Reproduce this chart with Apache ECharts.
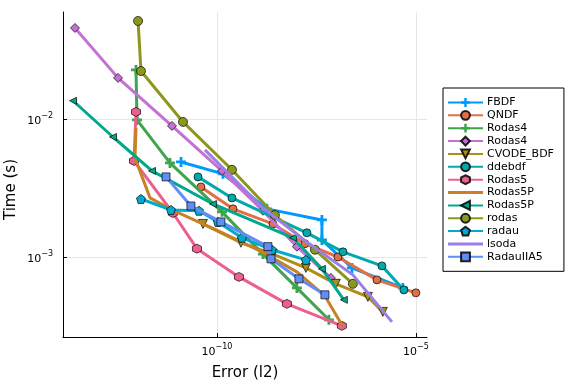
<!DOCTYPE html>
<html><head><meta charset="utf-8">
<script src="https://cdn.jsdelivr.net/npm/echarts@6/dist/echarts.min.js"></script>
<style>html,body{margin:0;padding:0;background:#fff}#c{width:576px;height:384px}</style>
</head><body><div id="c"></div>
<script>
// ---- data ----
const seriesNames = ['FBDF','QNDF','Rodas4','Rodas4','CVODE_BDF','ddebdf','Rodas5','Rodas5P','Rodas5P','rodas','radau','lsoda','RadauIIA5'];
const xTickValues = [1e-10, 1e-5];
const yTickValues = [1e-3, 1e-2];

const fbdfErr = [1.25e-11, 1.42e-10, 1.80e-9, 4.35e-8, 4.35e-8, 2.47e-7, 4.71e-6];
const fbdfTime = [4.91e-3, 4.03e-3, 2.25e-3, 1.87e-3, 1.34e-3, 8.42e-4, 6.04e-4];
const qndfErr = [3.96e-11, 2.52e-10, 2.55e-9, 1.63e-8, 1.10e-7, 1.05e-6, 1.0e-5];
const qndfTime = [3.24e-3, 2.25e-3, 1.75e-3, 1.26e-3, 1.01e-3, 6.90e-4, 5.56e-4];
const rodas4aErr = [9.23e-13, 9.77e-13, 6.59e-12, 1.34e-10, 1.43e-9, 1.02e-8, 6.52e-8];
const rodas4aTime = [2.27e-2, 9.89e-3, 4.83e-3, 2.14e-3, 1.06e-3, 6.04e-4, 3.55e-4];
const rodas4bErr = [2.70e-14, 3.26e-13, 7.40e-12, 1.34e-10, 1.43e-9, 1.02e-8, 7.31e-8];
const rodas4bTime = [4.57e-2, 1.99e-2, 8.95e-3, 4.23e-3, 2.18e-3, 1.20e-3, 7.13e-4];
const cvodeErr = [4.45e-11, 4.01e-10, 2.55e-9, 1.72e-8, 9.77e-8, 6.22e-7, 1.48e-6];
const cvodeTime = [1.75e-3, 1.28e-3, 1.06e-3, 8.42e-4, 6.46e-4, 5.20e-4, 4.05e-4];
const ddebdfErr = [3.34e-11, 2.38e-10, 1.82e-8, 1.47e-7, 1.40e-6, 4.99e-6];
const ddebdfTime = [3.83e-3, 2.70e-3, 1.51e-3, 1.10e-3, 8.71e-4, 5.84e-4];
const rodas5Err = [9.23e-13, 8.22e-13, 7.83e-12, 3.14e-11, 3.57e-10, 5.74e-9, 1.38e-7];
const rodas5Time = [1.13e-2, 5.00e-3, 2.10e-3, 1.16e-3, 7.25e-4, 4.63e-4, 3.21e-4];
const rodas5pAErr = [9.23e-13, 8.71e-13, 2.08e-12, 7.40e-12, 1.19e-10, 1.35e-9, 1.02e-8, 5.18e-8, 1.47e-7];
const rodas5pATime = [8.65e-3, 5.25e-3, 2.70e-3, 2.21e-3, 1.54e-3, 1.10e-3, 7.89e-4, 5.28e-4, 3.16e-4];
const rodas5pBErr = [2.41e-14, 2.44e-13, 2.33e-12, 7.93e-11, 8.12e-9, 4.35e-8, 1.55e-7];
const rodas5pBTime = [1.36e-2, 7.44e-3, 4.23e-3, 2.44e-3, 1.39e-3, 8.29e-4, 4.95e-4];
const rodasErr = [1.04e-12, 1.23e-12, 1.40e-11, 2.38e-10, 2.86e-9, 2.90e-8, 2.61e-7];
const rodasTime = [5.13e-2, 2.23e-2, 9.56e-3, 4.31e-3, 2.03e-3, 1.14e-3, 6.46e-4];
const radauErr = [1.23e-12, 6.98e-12, 3.53e-11, 1.06e-10, 4.25e-10, 2.41e-9, 1.72e-8];
const radauTime = [2.65e-3, 2.21e-3, 2.18e-3, 1.81e-3, 1.39e-3, 1.14e-3, 9.62e-4];
const lsodaErr = [4.99e-11, 1.35e-9, 1.22e-8, 2.61e-7, 2.50e-6];
const lsodaTime = [6.00e-3, 2.32e-3, 1.41e-3, 7.50e-4, 3.43e-4];
const radau5Err = [5.24e-12, 2.22e-11, 1.26e-10, 1.91e-9, 2.28e-9, 1.15e-8, 5.18e-8];
const radau5Time = [3.83e-3, 2.36e-3, 1.81e-3, 1.20e-3, 9.79e-4, 7.02e-4, 5.38e-4];

// ---- styles ----
const FONT = 'DejaVu Sans';
const PLUS = 'path://M3.6,0H6.4V3.6H10V6.4H6.4V10H3.6V6.4H0V3.6H3.6Z';
const HEX = 'path://M5,0L9.33,2.5L9.33,7.5L5,10L0.67,7.5L0.67,2.5Z';
const PENT = 'path://M5,0L9.76,3.45L7.94,9.05L2.06,9.05L0.24,3.45Z';
const LINEICON = 'path://M0,0H35V3H0Z';

const specs = [
  {err: fbdfErr, time: fbdfTime, color: '#009AFA', symbol: PLUS, size: 10, border: false},
  {err: qndfErr, time: qndfTime, color: '#E36F47', symbol: 'circle', size: 8},
  {err: rodas4aErr, time: rodas4aTime, color: '#3EA44E', symbol: PLUS, size: 10, border: false},
  {err: rodas4bErr, time: rodas4bTime, color: '#C371D2', symbol: 'diamond', size: 9},
  {err: cvodeErr, time: cvodeTime, color: '#AC8E18', symbol: 'triangle', size: 9, rotate: 180},
  {err: ddebdfErr, time: ddebdfTime, color: '#00A9AD', symbol: 'circle', size: 8},
  {err: rodas5Err, time: rodas5Time, color: '#ED5E93', symbol: HEX, size: 9},
  {err: rodas5pAErr, time: rodas5pATime, color: '#C68225', symbol: 'none', size: 0, icon: LINEICON},
  {err: rodas5pBErr, time: rodas5pBTime, color: '#00A98D', symbol: 'triangle', size: 7, rotate: 90},
  {err: rodasErr, time: rodasTime, color: '#8E971D', symbol: 'circle', size: 9},
  {err: radauErr, time: radauTime, color: '#00A9CD', symbol: PENT, size: 9},
  {err: lsodaErr, time: lsodaTime, color: '#9B7FE9', symbol: 'none', size: 0, icon: LINEICON},
  {err: radau5Err, time: radau5Time, color: '#618DF6', symbol: 'rect', size: 8}
];

// unique internal names so the legend keeps duplicate labels
const uniq = seriesNames.map((n, i) => seriesNames.indexOf(n) === i ? n : n + '\u200b');

const series = specs.map((s, i) => ({
  name: uniq[i],
  type: 'line',
  data: s.err.map((e, k) => [e, s.time[k]]),
  symbol: s.symbol,
  symbolSize: s.size,
  symbolRotate: s.rotate || 0,
  showSymbol: s.symbol !== 'none',
  color: s.color,
  lineStyle: {width: 3, color: s.color},
  itemStyle: {color: s.color, borderColor: s.border === false ? s.color : 'rgba(0,0,0,0.85)', borderWidth: s.border === false ? 0 : 0.8},
  emphasis: {disabled: true},
  animation: false,
  z: 2 + i
}));

const legendData = uniq.map((n, i) => specs[i].icon
  ? {name: n, icon: specs[i].icon, itemStyle: {color: specs[i].color, borderWidth: 0, borderColor: 'transparent'}}
  : {name: n});

function powLabel(v) {
  const e = Math.round(Math.log10(v));
  return '{b|10}{s|' + (e < 0 ? '\u2212' : '') + Math.abs(e) + '}';
}
const rich = {
  b: {fontSize: 11, fontFamily: FONT, color: '#000', verticalAlign: 'bottom', lineHeight: 15},
  s: {fontSize: 8, fontFamily: FONT, color: '#000', verticalAlign: 'top', lineHeight: 15}
};

const chart = echarts.init(document.getElementById('c'), null, {renderer: 'canvas'});
chart.setOption({
  animation: false,
  backgroundColor: '#fff',
  grid: {left: 63, right: 149, top: 12, bottom: 47, containLabel: false, outerBoundsMode: 'none'},
  legend: {
    orient: 'vertical',
    left: 443, top: 88,
    data: legendData,
    itemWidth: 35, itemHeight: 11, itemGap: 1.86,
    padding: [9, 10, 9, 4],
    borderColor: '#000', borderWidth: 1,
    backgroundColor: '#fff',
    textStyle: {fontFamily: FONT, fontSize: 11, color: '#000', padding: [0, 0, 0, -1]},
    formatter: n => n.replace('\u200b', ''),
    selectedMode: false
  },
  xAxis: {
    type: 'log', logBase: 10,
    min: Math.pow(10, -13.87), max: Math.pow(10, -4.72),
    name: 'Error (l2)', nameLocation: 'middle', nameGap: 29, nameMoveOverlap: false,
    nameTextStyle: {fontFamily: FONT, fontSize: 15, color: '#000'},
    axisLine: {show: true, onZero: false, lineStyle: {color: '#000', width: 1}},
    axisTick: {show: true, inside: true, length: 4, lineStyle: {color: '#000'}, customValues: xTickValues},
    axisLabel: {customValues: xTickValues, formatter: powLabel, rich: rich, margin: 6},
    splitLine: {show: true, lineStyle: {color: '#e6e6e6', width: 1}},
    minorTick: {show: false}
  },
  yAxis: {
    type: 'log', logBase: 10,
    min: Math.pow(10, -3.574), max: Math.pow(10, -1.225),
    name: 'Time (s)', nameLocation: 'middle', nameGap: 44, nameMoveOverlap: false,
    nameTextStyle: {fontFamily: FONT, fontSize: 15, color: '#000', padding: [0, 30, 0, 0]},
    axisLine: {show: true, onZero: false, lineStyle: {color: '#000', width: 1}},
    axisTick: {show: true, inside: true, length: 4, lineStyle: {color: '#000'}, customValues: yTickValues},
    axisLabel: {customValues: yTickValues, formatter: powLabel, rich: rich, margin: 10},
    splitLine: {show: true, lineStyle: {color: '#e6e6e6', width: 1}}
  },
  series: series
});
</script>
</body></html>
